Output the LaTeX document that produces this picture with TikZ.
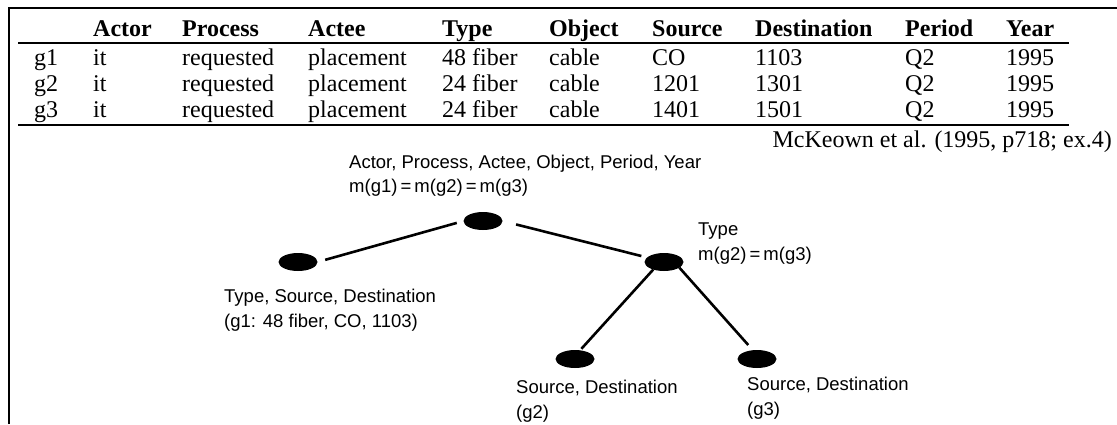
\documentclass[tikz,border=0pt]{standalone}
\usepackage{fontspec}
\setmainfont{Liberation Serif}
\newfontfamily\labelfont{Liberation Sans}
\usetikzlibrary{shapes.geometric}
\begin{document}
\begin{tikzpicture}[x=1pt,y=-1pt,
  hd/.style={anchor=base west, font=\fontsize{24}{26}\selectfont\bfseries, inner sep=0pt},
  cell/.style={anchor=base west, font=\fontsize{24}{26}\selectfont, inner sep=0pt},
  dot/.style={ellipse, fill=black, minimum width=39pt, minimum height=18pt, inner sep=0pt, outer sep=0pt},
  lbl/.style={anchor=base west, font=\labelfont\fontsize{18.5}{22}\selectfont, inner sep=0pt},
  link/.style={line width=2.6pt},
  rule/.style={line width=2pt}]
\useasboundingbox (0,0) rectangle (1117,424);

% frame along the top and left edge
\draw[rule] (9,424) -- (9,8) -- (1117,8);

% column anchors: one per column and line of the table
\foreach \y [count=\r from 0] in {36,65,91,117}{
  \foreach \x [count=\c] in {34,93,182,308,442,549,652,755,905,1006}{
    \coordinate (p\r-\c) at (\x,\y);
  }
}

% header
\node[hd] (h2)  at (p0-2)  {Actor};
\node[hd] (h3)  at (p0-3)  {Process};
\node[hd] (h4)  at (p0-4)  {Actee};
\node[hd] (h5)  at (p0-5)  {Type};
\node[hd] (h6)  at (p0-6)  {Object};
\node[hd] (h7)  at (p0-7)  {Source};
\node[hd] (h8)  at (p0-8)  {Destination};
\node[hd] (h9)  at (p0-9)  {Period};
\node[hd] (h10) at (p0-10) {Year};
\draw[rule] (18,43) -- (1069,43);

% row g1
\node[cell] (a1) at (p1-1)  {g1};
\node[cell] (b1) at (p1-2)  {it};
\node[cell] (c1) at (p1-3)  {requested};
\node[cell] (d1) at (p1-4)  {placement};
\node[cell] (e1) at (p1-5)  {48 fiber};
\node[cell] (f1) at (p1-6)  {cable};
\node[cell] (s1) at (p1-7)  {CO};
\node[cell] (t1) at (p1-8)  {1103};
\node[cell] (q1) at (p1-9)  {Q2};
\node[cell] (y1) at (p1-10) {1995};
% row g2
\node[cell] (a2) at (p2-1)  {g2};
\node[cell] (b2) at (p2-2)  {it};
\node[cell] (c2) at (p2-3)  {requested};
\node[cell] (d2) at (p2-4)  {placement};
\node[cell] (e2) at (p2-5)  {24 fiber};
\node[cell] (f2) at (p2-6)  {cable};
\node[cell] (s2) at (p2-7)  {1201};
\node[cell] (t2) at (p2-8)  {1301};
\node[cell] (q2) at (p2-9)  {Q2};
\node[cell] (y2) at (p2-10) {1995};
% row g3
\node[cell] (a3) at (p3-1)  {g3};
\node[cell] (b3) at (p3-2)  {it};
\node[cell] (c3) at (p3-3)  {requested};
\node[cell] (d3) at (p3-4)  {placement};
\node[cell] (e3) at (p3-5)  {24 fiber};
\node[cell] (f3) at (p3-6)  {cable};
\node[cell] (s3) at (p3-7)  {1401};
\node[cell] (t3) at (p3-8)  {1501};
\node[cell] (q3) at (p3-9)  {Q2};
\node[cell] (y3) at (p3-10) {1995};
\draw[rule] (18,125) -- (1069,125);

\node[cell, anchor=base east] (cite) at (1112,147) {McKeown et al. (1995, p718; ex.4)};

% tree of shared attributes
\node[dot] (root) at (483,221) {};
\node[dot] (left) at (298,262) {};
\node[dot] (mid)  at (664,262) {};
\node[dot] (bl)   at (575,359) {};
\node[dot] (br)   at (757,359) {};

\draw[link, shorten <=7pt, shorten >=8pt] (root.west) -- (left.east);
\draw[link, shorten <=14pt, shorten >=6pt] (root.east) -- (mid.165);
\draw[link, shorten >=2pt] (mid.215) -- (bl.60);
\draw[link, shorten >=7pt] (mid.340) -- (br.115);

\node[lbl] (rootA) at (349,168) {Actor, Process, Actee, Object, Period, Year};
\node[lbl] (rootB) at (349,192) {m(g1)\,=\,m(g2)\,=\,m(g3)};
\node[lbl] (midA)  at (698,235) {Type};
\node[lbl] (midB)  at (698,260) {m(g2)\,=\,m(g3)};
\node[lbl] (leftA) at (224,302) {Type, Source, Destination};
\node[lbl] (leftB) at (224,327) {(g1: 48 fiber, CO, 1103)};
\node[lbl] (blA)   at (516,393) {Source, Destination};
\node[lbl] (blB)   at (516,418) {(g2)};
\node[lbl] (brA)   at (747,390) {Source, Destination};
\node[lbl] (brB)   at (747,415) {(g3)};
\end{tikzpicture}
\end{document}
